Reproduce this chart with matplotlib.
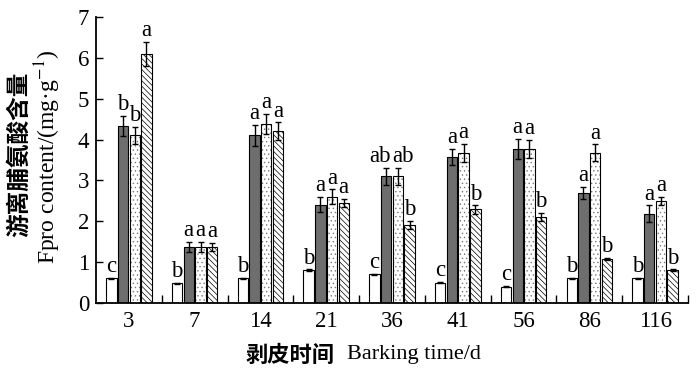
import numpy as np
import matplotlib.pyplot as plt
from matplotlib.ticker import FixedLocator

plt.rcParams['font.family'] = ['Liberation Serif', 'Noto Sans CJK SC']
plt.rcParams['mathtext.fontset'] = 'stix'
plt.rcParams['hatch.linewidth'] = 0.5

days = ['3', '7', '14', '21', '36', '41', '56', '86', '116']

# four treatments per barking time (white, grey, dotted, hatched)
ck = [0.60, 0.48, 0.60, 0.80, 0.70, 0.50, 0.40, 0.60, 0.60]
t1 = [4.33, 1.38, 4.10, 2.41, 3.10, 3.58, 3.77, 2.70, 2.19]
t2 = [4.10, 1.38, 4.38, 2.60, 3.10, 3.68, 3.78, 3.68, 2.50]
t3 = [6.10, 1.38, 4.20, 2.45, 1.90, 2.29, 2.10, 1.08, 0.80]

ck_err = [0.02, 0.02, 0.02, 0.02, 0.02, 0.02, 0.02, 0.02, 0.02]
t1_err = [0.25, 0.12, 0.25, 0.18, 0.20, 0.20, 0.25, 0.15, 0.20]
t2_err = [0.20, 0.12, 0.25, 0.18, 0.20, 0.22, 0.22, 0.20, 0.10]
t3_err = [0.30, 0.10, 0.22, 0.10, 0.10, 0.10, 0.10, 0.03, 0.02]

ck_lab = ['c', 'b', 'b', 'b', 'c', 'c', 'c', 'b', 'b']
t1_lab = ['b', 'a', 'a', 'a', 'ab', 'a', 'a', 'a', 'a']
t2_lab = ['b', 'a', 'a', 'a', 'ab', 'a', 'a', 'a', 'a']
t3_lab = ['a', 'a', 'a', 'a', 'b', 'b', 'b', 'b', 'b']

# values, errors, letters, fill, hatch, hatch colour
series = [
    (ck, ck_err, ck_lab, 'white', '', 'black'),
    (t1, t1_err, t1_lab, '#6e6e6e', '', 'black'),
    (t2, t2_err, t2_lab, 'white', '....', '#7a7a7a'),
    (t3, t3_err, t3_lab, 'white', '\\\\\\\\\\\\', 'black'),
]

fig = plt.figure(figsize=(7, 3.74), dpi=100)
ax = fig.add_axes([96 / 700, 1 - 303 / 374, (688 - 96) / 700, (303 - 17) / 374])

x = np.arange(len(days))
pitch = 0.178
width = 0.158
for j, (vals, errs, labs, color, hatch, hcol) in enumerate(series):
    pos = x + (j - 1.5) * pitch
    # hatch drawn in its own colour, then a black outline on top
    ax.bar(pos, vals, width, color=color, edgecolor=hcol, linewidth=0,
           hatch=hatch, zorder=2)
    ax.bar(pos, vals, width, fill=False, edgecolor='black', linewidth=0.8,
           zorder=2)
    ax.errorbar(pos, vals, yerr=errs, fmt='none', ecolor='black',
                elinewidth=1, capsize=2.5, capthick=1, zorder=3)
    for px, v, e, t in zip(pos, vals, errs, labs):
        # spread the wide "ab" labels apart so they do not collide
        if len(t) > 1:
            px += -0.09 if j == 1 else 0.085
        ax.text(px, v + e + 0.02, t, ha='center', va='bottom', fontsize=16.5)

ax.set_xlim(-0.5, len(days) - 0.5)
ax.set_ylim(0, 7)
ax.set_xticks(x)
ax.set_xticklabels(days, fontsize=16.5)
ax.xaxis.set_minor_locator(FixedLocator(np.arange(0.5, len(days), 1)))
ax.tick_params(axis='x', which='major', length=0, pad=6)
ax.tick_params(axis='x', which='minor', direction='in', length=6, width=1)
ax.set_yticks(range(8))
ax.tick_params(axis='y', direction='in', length=5, width=1, labelsize=16.5, pad=5)
ax.spines['top'].set_visible(False)
ax.spines['right'].set_visible(False)
ax.spines['left'].set_linewidth(1.3)
ax.spines['bottom'].set_linewidth(1.3)

fig.text(335 / 700, 1 - 355 / 374, '剥皮时间', family='Noto Sans CJK SC',
         fontweight='bold', fontsize=16, ha='right', va='center')
fig.text(347 / 700, 1 - 355 / 374, 'Barking time/d', fontsize=16,
         ha='left', va='center')
fig.text(19 / 700, 1 - 154 / 374, '游离脯氨酸含量', family='Noto Sans CJK SC',
         fontweight='bold', fontsize=17, rotation=90, ha='center', va='center')
fig.text(48 / 700, 1 - 157 / 374, 'Fpro content/(mg·g$^{-1}$)', fontsize=17,
         rotation=90, ha='center', va='center')

fig.savefig('out.png', dpi=100)
